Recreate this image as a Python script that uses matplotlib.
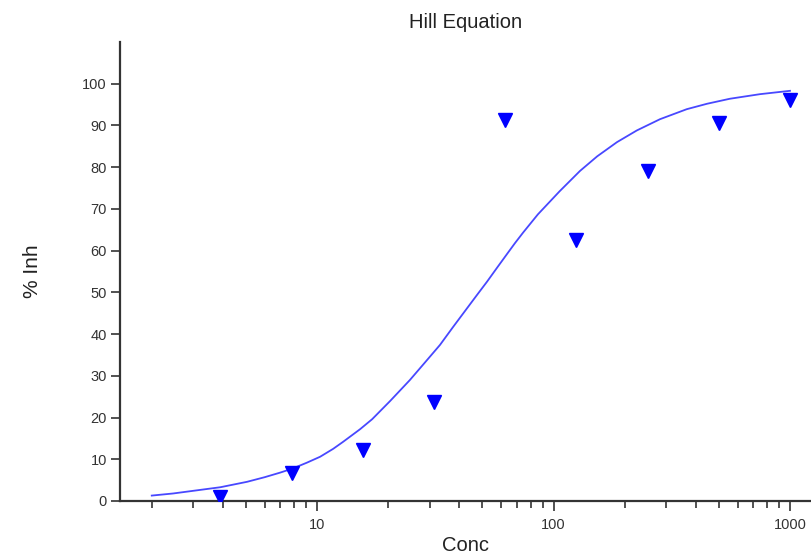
import matplotlib

matplotlib.use("agg")
import matplotlib.pyplot as plt
import numpy as np
from matplotlib.ticker import LogLocator, NullFormatter, FixedLocator, FixedFormatter

plt.rcParams["font.family"] = ["Liberation Sans", "DejaVu Sans"]

# Measured data
conc = [3.9, 7.8, 15.6, 31.25, 62.5, 125, 250, 500, 1000]
inh = [1.0, 6.7, 12.2, 23.7, 91.3, 62.6, 79.1, 90.6, 96.2]

# Fitted curve
fit_conc = [2.0, 2.46, 3.9, 5.06, 6.0, 6.98, 7.9, 9.07, 10.3, 11.7, 12.9, 15.2,
            17.1, 20.4, 24.7, 28.6, 33.1, 37.6, 43.1, 47.5, 52.4, 57.7, 63.6,
            68.7, 74.3, 85.9, 106, 129.4, 153, 185.5, 225, 282, 366, 446, 557,
            747, 1000]
fit_inh = [1.3, 1.8, 3.3, 4.6, 5.7, 6.8, 7.8, 9.2, 10.6, 12.5, 14.2, 17.2,
           19.6, 24.0, 29.0, 33.2, 37.4, 41.7, 46.2, 49.4, 52.6, 55.9, 59.2,
           61.8, 64.3, 68.7, 74.2, 79.1, 82.6, 86.0, 88.8, 91.5, 93.9, 95.2,
           96.4, 97.5, 98.3]

yticks = list(range(0, 101, 10))
xticks = [10, 100, 1000]
xticklabels = ["10", "100", "1000"]

fig = plt.figure(figsize=(8.12, 5.58), dpi=100)
ax = fig.add_axes([120 / 812, 57 / 558, 692 / 812, 459 / 558])

ax.plot(fit_conc, fit_inh, color="#4848ff", lw=1.3, zorder=2)
ax.plot(conc, inh, linestyle="none", marker="v", markersize=10,
        color="#0000ff", zorder=3)

ax.set_xscale("log")
ax.set_xlim(1.468, 1239)
ax.set_ylim(0, 110)

ax.xaxis.set_major_locator(FixedLocator(xticks))
ax.xaxis.set_major_formatter(FixedFormatter(xticklabels))
ax.xaxis.set_minor_locator(LogLocator(base=10, subs=np.arange(2, 10)))
ax.xaxis.set_minor_formatter(NullFormatter())
ax.set_yticks(yticks)

for side in ["top", "right"]:
    ax.spines[side].set_visible(False)
for side in ["left", "bottom"]:
    ax.spines[side].set_linewidth(1.6)
    ax.spines[side].set_color("#333333")

ax.tick_params(axis="y", which="major", length=6.5, width=1.2, pad=3,
               labelsize=10.5, colors="#333333")
ax.tick_params(axis="x", which="major", length=7, width=1.2, pad=5,
               labelsize=10.5, colors="#333333")
ax.tick_params(axis="x", which="minor", length=5, width=1.2, colors="#333333")

ax.set_title("Hill Equation", fontsize=14.5, color="#222222", pad=10)
ax.set_xlabel("Conc", fontsize=14.5, color="#222222", labelpad=3)
ax.set_ylabel("% Inh", fontsize=15, color="#222222", labelpad=29)

fig.savefig("out.png", dpi=100)
